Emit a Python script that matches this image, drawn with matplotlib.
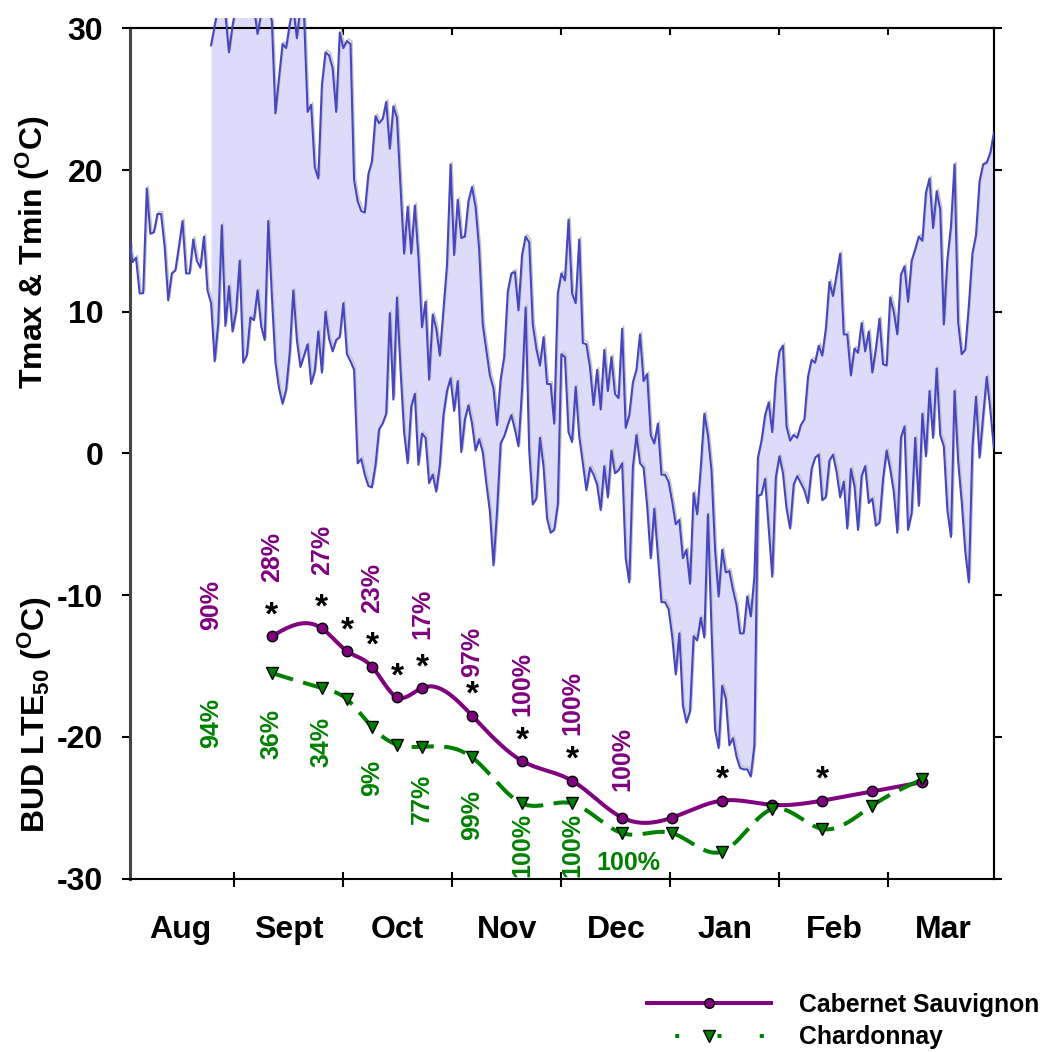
import numpy as np
import matplotlib
matplotlib.use("Agg")
import matplotlib.pyplot as plt
import matplotlib.transforms as mtransforms
from matplotlib.patches import Rectangle
from matplotlib.lines import Line2D

plt.rcParams["font.family"] = ["Liberation Sans", "DejaVu Sans"]
plt.rcParams["font.weight"] = "bold"
plt.rcParams["axes.unicode_minus"] = False
plt.rcParams["mathtext.fontset"] = "custom"
plt.rcParams["mathtext.rm"] = "Liberation Sans:bold"
plt.rcParams["mathtext.bf"] = "Liberation Sans:bold"
plt.rcParams["mathtext.it"] = "Liberation Sans:bold"
plt.rcParams["mathtext.sf"] = "Liberation Sans:bold"

# Daily minimum temperature (deg C), Aug -> Mar
tmin = [15.3, 13.5, 13.8, 11.3, 11.3, 18.7, 15.5, 15.6, 16.9, 16.9,
        14.6, 10.8, 12.7, 12.9, 14.6, 16.4, 12.7, 12.7, 15.1, 13.6,
        13.1, 15.3, 11.5, 10.6, 6.5, 9.2, 16.1, 9.0, 11.8, 8.6,
        10.0, 13.6, 6.4, 6.9, 9.6, 9.4, 11.5, 9.0, 8.0, 16.4,
        11.1, 6.4, 4.6, 3.5, 4.5, 7.1, 11.5, 8.0, 6.1, 6.9,
        7.7, 4.9, 5.8, 8.6, 5.7, 10.0, 8.1, 7.2, 8.0, 8.2,
        10.6, 7.0, 6.5, 5.9, -0.7, -0.4, -1.5, -2.3, -2.4, -0.8,
        1.7, 2.1, 2.8, 9.9, 3.8, 11.0, 5.9, 1.5, -0.7, 3.3,
        4.2, -0.8, 1.4, 1.1, -2.1, -1.5, -2.7, -0.8, 2.7, 4.4,
        5.3, 3.0, 5.1, 0.1, 2.4, 3.4, 2.1, 0.2, 1.0, 0.1,
        -2.1, -4.1, -7.9, -4.1, 0.7, 1.2, 2.0, 2.7, 1.7, 0.5,
        4.5, 10.3, 0.2, -3.6, -3.2, 1.1, -0.9, -4.6, -5.6, -5.4,
        -3.6, 7.0, 6.8, 1.5, 0.8, 4.7, 1.2, -0.7, -2.6, -1.0,
        -1.5, -2.2, -4.0, -0.9, -3.1, 0.2, -1.4, -1.2, -0.7, -7.4,
        -9.1, -1.0, 1.3, -0.7, -1.0, -3.7, -7.4, -3.9, -7.2, -10.5,
        -10.5, -11.0, -12.9, -15.6, -12.7, -17.8, -19.0, -18.2, -12.9, -13.2,
        -11.6, -13.0, -4.3, -12.4, -19.5, -20.8, -16.4, -17.3, -20.6, -20.1,
        -21.4, -22.2, -22.3, -22.3, -22.8, -20.6, -3.0, -2.9, -1.8, -5.3,
        -8.7, -1.7, -0.2, -1.4, -3.9, -5.3, -2.2, -1.6, -2.1, -2.6,
        -3.5, -1.1, -0.3, -0.1, -3.3, -3.1, -0.5, -0.1, -1.3, -3.1,
        -2.0, -5.3, -1.1, -2.3, -5.4, -1.6, -0.9, -3.5, -3.2, -5.1,
        -4.9, -1.8, 0.2, -1.1, -2.7, -5.6, 1.1, 1.9, -5.4, -4.2,
        1.1, -3.7, 2.8, -0.2, 4.4, 1.1, 6.0, 1.3, 0.5, -4.0,
        -5.9, 4.4, -0.5, -3.4, -6.9, -9.1, 0.4, 4.0, -0.3, 2.6,
        5.4, 3.1, 0.4]

# Daily maximum temperature (deg C), missing for the first days
tmax = [np.nan] * 23 + [
        28.8, 30.2, 31.5, 31.5, 31.0, 28.3, 30.2, 31.5, 31.5, 31.5,
        31.0, 31.5, 31.5, 29.6, 31.0, 31.5, 31.5, 30.5, 24.0, 26.5,
        28.9, 28.6, 30.3, 31.5, 29.3, 31.5, 31.0, 24.1, 24.6, 20.2,
        19.4, 26.0, 28.3, 28.1, 27.2, 24.1, 29.7, 28.6, 29.1, 28.9,
        19.3, 17.8, 17.1, 17.0, 19.7, 20.6, 23.8, 23.3, 23.6, 24.8,
        21.5, 24.5, 23.7, 18.8, 14.1, 17.4, 14.1, 17.5, 13.9, 8.9,
        10.7, 5.2, 9.8, 8.8, 6.9, 10.1, 13.3, 20.4, 14.0, 17.9,
        15.2, 15.3, 17.8, 18.8, 17.4, 14.4, 9.1, 7.3, 5.5, 4.6,
        2.0, 5.2, 6.8, 11.4, 12.7, 12.8, 10.1, 14.0, 15.3, 14.9,
        9.1, 7.4, 6.2, 8.2, 4.9, 4.9, 2.1, 11.3, 12.7, 12.2,
        16.5, 11.3, 10.6, 15.1, 7.8, 7.7, 6.1, 3.4, 5.9, 3.1,
        7.3, 4.4, 6.8, 4.2, 3.9, 8.8, 1.8, 2.7, 5.0, 5.9,
        8.4, 5.1, 5.6, 1.3, 0.7, 2.1, -1.5, -1.5, -2.0, -3.4,
        -5.0, -4.7, -7.4, -6.8, -9.2, -2.8, -4.3, -1.0, 2.8, 1.3,
        -1.2, -6.8, -10.1, -6.8, -8.4, -8.3, -9.6, -10.7, -12.7, -12.7,
        -10.1, -11.5, -8.7, -0.3, 0.9, 2.7, 3.6, 1.5, 5.3, 7.2,
        7.6, 1.9, 0.9, 1.3, 1.1, 2.0, 2.4, 5.4, 6.6, 6.4,
        7.6, 6.9, 8.8, 12.1, 11.1, 12.6, 14.1, 8.4, 8.4, 5.5,
        7.4, 7.1, 9.2, 7.2, 8.6, 5.7, 7.4, 9.5, 6.3, 6.2,
        11.0, 10.0, 8.4, 12.6, 13.2, 10.7, 13.6, 14.4, 15.3, 15.0,
        18.4, 19.4, 15.9, 18.5, 17.2, 9.1, 13.7, 16.0, 20.4, 9.3,
        7.0, 7.3, 10.4, 14.1, 15.4, 19.2, 20.4, 20.5, 21.2, 22.6]

# Bud cold hardiness (LTE50) sampling
sample_days = [41, 55, 62, 69, 76, 83, 97, 111, 125, 139, 153, 167, 181, 195, 209, 223]
cab_lte = [-12.9, -12.35, -13.95, -15.05, -17.2, -16.55, -18.5, -21.7,
           -23.1, -25.7, -25.7, -24.5, -24.8, -24.5, -23.85, -23.2]
chard_lte = [-15.5, -16.55, -17.35, -19.3, -20.55, -20.7, -21.45, -24.7,
             -24.7, -26.8, -26.8, -28.1, -25.1, -26.5, -24.85, -23.0]
signif = [1, 1, 1, 1, 1, 1, 1, 1, 1, 0, 0, 1, 0, 1, 0, 0]

# percentage labels
pct_days = [24, 41, 55, 69, 83, 97, 111, 125, 139]
cab_pct = ["90%", "28%", "27%", "23%", "17%", "97%", "100%", "100%", "100%"]
chard_pct = ["94%", "36%", "34%", "9%", "77%", "99%", "100%", "100%", "100%"]
cab_pct_y = [-10.7, -7.3, -6.8, -9.5, -11.3, -14.0, -16.3, -17.6, -21.6]
chard_pct_y = [-19.05, -19.8, -20.4, -22.9, -24.4, -25.5, -27.6, -27.6, -28.9]

months = ["Aug", "Sept", "Oct", "Nov", "Dec", "Jan", "Feb", "Mar"]
month_len = 30.5

purple = "#800080"
green = "#008000"
blue = "#4646c0"


def smooth(x, y, n=500):
    # natural cubic spline through the points
    x = np.asarray(x, float)
    y = np.asarray(y, float)
    m = len(x)
    h = np.diff(x)
    A = np.zeros((m, m))
    r = np.zeros(m)
    A[0, 0] = A[-1, -1] = 1
    for k in range(1, m - 1):
        A[k, k - 1] = h[k - 1]
        A[k, k] = 2 * (h[k - 1] + h[k])
        A[k, k + 1] = h[k]
        r[k] = 3 * ((y[k + 1] - y[k]) / h[k] - (y[k] - y[k - 1]) / h[k - 1])
    c = np.linalg.solve(A, r)
    b = (y[1:] - y[:-1]) / h - h * (2 * c[:-1] + c[1:]) / 3
    d = (c[1:] - c[:-1]) / (3 * h)
    xs = np.linspace(x[0], x[-1], n)
    j = np.clip(np.searchsorted(x, xs) - 1, 0, m - 2)
    t = xs - x[j]
    return xs, y[j] + b[j] * t + c[j] * t ** 2 + d[j] * t ** 3


days = np.arange(1, len(tmin) + 1)
tmin_a = np.array(tmin)
tmax_a = np.array(tmax)

fig = plt.figure(figsize=(10.49, 10.52), dpi=100)
ax = fig.add_axes([0.1239, 0.1649, 0.8237, 0.8082])

clip = Rectangle((0, 0), 1, 1 + 10 / 850, transform=ax.transAxes)
shadow = mtransforms.offset_copy(ax.transData, fig=fig, x=1.5, y=2.5, units="dots")

has = ~np.isnan(tmax_a)
f = ax.fill_between(days, tmin_a, tmax_a, where=has, color="#dcdcfa", lw=0, zorder=1)
f.set_clip_path(clip)
for arr in (tmax_a, tmin_a):
    s, = ax.plot(days, arr, color="#c4c4c4", lw=1, transform=shadow, zorder=2)
    s.set_clip_path(clip)
    l, = ax.plot(days, arr, color=blue, lw=1.5, zorder=3)
    l.set_clip_path(clip)

# LTE curves
xs, ys = smooth(sample_days, cab_lte)
ax.plot(xs, ys, color=purple, lw=2.9, zorder=5)
ax.plot(sample_days, cab_lte, "o", color=purple, mec="black", mew=1, ms=7.5, zorder=6)
xs, ys = smooth(sample_days, chard_lte)
ax.plot(xs, ys, color=green, lw=2.9, dashes=(5.5, 2.6), zorder=5)
ax.plot(sample_days, chard_lte, "v", color=green, mec="black", mew=1, ms=9, zorder=6)

for d, v, s in zip(sample_days, cab_lte, signif):
    if s:
        ax.annotate("*", (d, v), xytext=(0, 8.5), textcoords="offset points",
                    ha="center", va="baseline", fontsize=24, fontweight="bold", zorder=7)

for i, d in enumerate(pct_days):
    ax.text(d, cab_pct_y[i], cab_pct[i], rotation=90, ha="center", va="center",
            fontsize=18, fontweight="bold", color=purple, zorder=7)
    if i < len(pct_days) - 1:
        ax.text(d, chard_pct_y[i], chard_pct[i], rotation=90, ha="center", va="center",
                fontsize=18, fontweight="bold", color=green, zorder=7)
    else:
        ax.text(d + 1.7, chard_pct_y[i], chard_pct[i], ha="center", va="center",
                fontsize=18, fontweight="bold", color=green, zorder=7)

ax.set_xlim(1.3, 243.05)
ax.set_ylim(-30, 30)
edges = [month_len * k for k in range(1, 8)]
centers = [month_len * (k + 0.5) for k in range(8)]
ax.set_xticks(edges)
ax.set_xticklabels([])
ax.set_xticks(centers, minor=True)
ax.set_xticklabels(months, minor=True)
ax.tick_params(axis="x", which="major", direction="inout", length=10.8, width=1.5, top=False)
ax.tick_params(axis="x", which="minor", length=0, pad=26, labelsize=23)
ax.set_yticks(range(-30, 31, 10))
ax.tick_params(axis="y", direction="out", length=5.8, width=1.5, pad=13.5, labelsize=23, right=False)

top = ax.secondary_xaxis("top")
top.set_xticks(edges)
top.set_xticklabels([])
top.tick_params(direction="in", length=5, width=1.5)
right = ax.secondary_yaxis("right")
right.set_yticks(range(-30, 31, 10))
right.set_yticklabels([])
right.tick_params(direction="out", length=5.8, width=1.5)

for sp in ax.spines.values():
    sp.set_linewidth(1.5)
ax.spines["left"].set_linewidth(2.2)
ax.spines["left"].set_color("#444444")
top.spines["top"].set_linewidth(1.5)
right.spines["right"].set_linewidth(1.5)

fig.text(0.031, 0.760, r"Tmax & Tmin ($^{\mathbf{O}}$C)", rotation=90,
         ha="center", va="center", fontsize=23, fontweight="bold")
fig.text(0.033, 0.321, r"BUD LTE$_{\mathbf{50}}$ ($^{\mathbf{O}}$C)", rotation=90,
         ha="center", va="center", fontsize=23, fontweight="bold")

handles = [
    Line2D([], [], color=purple, lw=2.9, marker="o", mfc=purple, mec="black", ms=7),
    Line2D([], [], color=green, lw=2.9, linestyle=(3.5, (1, 9.5)), marker="v",
           mfc=green, mec="black", ms=8.5),
]
fig.legend(handles, ["Cabernet Sauvignon", "Chardonnay"], loc="upper left",
           bbox_to_anchor=(0.605, 0.068), frameon=False, borderpad=0,
           handlelength=5.0, handletextpad=1.15, labelspacing=0.35,
           prop={"size": 17.8, "weight": "bold"}, numpoints=1)

fig.savefig("out.png", dpi=100)
